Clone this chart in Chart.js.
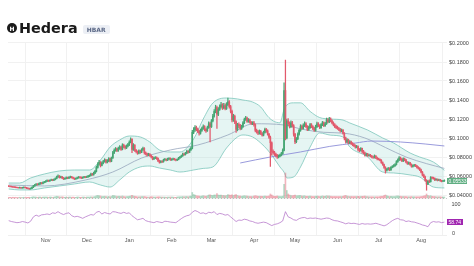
<!DOCTYPE html>
<html>
<head>
<meta charset="utf-8">
<title>Hedera HBAR</title>
<script src="https://cdn.jsdelivr.net/npm/chart.js@4.4.1/dist/chart.umd.min.js"></script>
<style>
  html, body { margin: 0; padding: 0; background: #fff; }
  body { width: 474px; height: 266px; position: relative; overflow: hidden; }
  #title { position: absolute; left: 7px; top: 20px; height: 16px; display: flex; align-items: center; font-family: "DejaVu Sans", sans-serif; z-index: 2; }
  #logo { width: 10px; height: 10px; border-radius: 50%; background: #1b1b1b; color: #fff; font: bold 6px "DejaVu Sans", sans-serif; display: flex; align-items: center; justify-content: center; }
  #name { margin-left: 2px; font-weight: bold; font-size: 14.4px; color: #1a1a1a; }
  #ticker { margin-left: 5px; margin-top: 2px; background: #eceff5; color: #5b6886; font: bold 6px "DejaVu Sans", sans-serif; padding: 1px 4px; border-radius: 2px; }
  #chart { position: absolute; left: 0; top: 0; }
</style>
</head>
<body>
<div id="title"><div id="logo">H</div><span id="name">Hedera</span><span id="ticker">HBAR</span></div>
<canvas id="chart" width="474" height="266"></canvas>
<script>
// daily candles from Oct 5 (day 0); prices in 1/10000 USD
const PRICE_UNIT = 0.0001;
const firstOpen = 494;

const closes = [
  492,490,487,485,483,480,478,476,478,475,477,480,478,472,468,465,470,482,495,505,514,510,518,526,522,532,538,
  545,552,548,555,560,556,563,572,590,598,585,592,580,570,575,582,578,586,590,583,576,569,575,581,588,584,579,585,590,587,
  592,598,605,620,612,630,648,690,725,745,712,735,752,768,745,760,780,755,790,845,870,885,868,890,905,880,925,910,895,915,930,
  955,985,880,925,870,855,840,865,850,875,890,845,835,820,830,815,800,780,790,795,785,760,745,755,750,770,775,768,780,785,770,
  775,780,772,768,775,790,800,812,830,825,840,860,850,875,890,1060,1085,1110,1095,1070,1050,1080,1100,1120,1090,1075,1110,1150,1120,
  1180,1230,1280,1320,1250,1300,1330,1350,1320,1340,1310,1350,1380,1330,1280,1190,1230,1170,1090,1140,1130,1100,1120,1160,1195,1210,1175,1190,1165,1150,1160,
  1140,1080,1065,1050,1070,1045,1030,1060,1090,1075,1040,1010,950,860,845,830,815,800,810,820,835,870,1500,1000,1180,1150,1120,1160,1130,1040,
  960,990,1040,1080,1120,1100,1130,1150,1120,1090,1110,1140,1120,1100,1080,1120,1150,1130,1110,1140,1160,1130,1150,1190,1170,1200,1180,1160,1140,1120,1110,
  1100,1090,1075,1080,1050,1000,960,980,950,960,940,930,920,905,910,880,870,890,860,845,820,830,815,820,810,800,795,810,790,780,
  775,765,740,720,690,660,670,680,665,690,700,710,720,750,770,790,775,760,780,770,745,730,740,720,700,710,715,705,690,680,665,
  640,610,590,555,515,545,540,585,580,575,560,565,555,560,550,545,548,553.3
];
const highs = [
  499,496,494,491,489,487,484,482,483,481,482,486,485,481,476,472,475,487,502,512,521,520,525,533,532,538,545,
  552,560,558,561,568,566,570,580,600,612,605,600,597,585,582,590,589,593,598,596,589,581,582,588,595,594,590,592,597,596,
  600,606,613,630,628,640,660,705,740,765,752,748,765,782,775,772,795,788,800,860,885,900,895,905,920,912,940,935,920,928,945,
  970,1002,995,940,932,880,865,875,872,888,905,898,855,842,840,836,822,808,798,805,802,790,768,762,762,778,785,782,788,795,792,
  783,788,786,779,782,797,808,820,840,842,850,872,868,886,905,1080,1110,1130,1125,1105,1082,1095,1115,1138,1130,1100,1125,1170,1165,
  1195,1250,1300,1345,1335,1320,1350,1375,1362,1365,1360,1372,1420,1395,1345,1295,1250,1240,1180,1155,1160,1145,1135,1172,1210,1228,1220,1205,1198,1175,1172,
  1175,1150,1095,1080,1085,1080,1058,1072,1105,1102,1085,1050,1020,960,875,860,842,828,822,832,848,885,1580,1820,1200,1205,1170,1180,1175,1140,
  1050,1005,1055,1095,1140,1135,1148,1170,1162,1130,1125,1155,1152,1130,1112,1135,1168,1162,1140,1152,1175,1170,1165,1210,1205,1218,1212,1192,1170,1152,1135,
  1125,1112,1102,1095,1090,1058,1010,995,988,972,968,952,940,928,922,918,890,900,895,870,852,842,838,830,828,818,810,822,815,798,
  788,782,772,748,726,698,682,690,688,698,710,720,730,762,782,805,800,785,792,788,775,752,748,745,728,718,724,722,712,698,688,
  672,648,620,598,562,555,560,595,592,588,582,572,570,568,565,556,555,560
];
const lows = [
  487,485,483,481,478,476,474,471,472,470,471,473,474,467,463,460,461,467,478,490,500,503,505,512,515,517,527,
  532,540,542,543,550,550,551,558,568,585,578,579,572,562,563,570,571,573,580,577,570,562,563,570,576,578,572,574,580,581,
  582,586,592,600,605,608,625,642,682,715,695,705,728,745,735,738,752,745,750,785,835,860,855,860,880,870,875,895,882,888,905,
  920,948,845,870,860,842,828,832,838,845,868,830,822,810,812,805,790,770,772,782,775,750,735,738,741,745,765,760,762,772,763,
  764,768,766,760,762,770,784,795,806,816,820,834,840,845,868,885,1045,1070,1075,1055,1030,1040,1068,1090,1075,1060,1068,1100,960,
  1110,1170,1220,1265,1100,1235,1290,1315,1300,1305,1295,1300,1340,1315,1265,1170,1175,1150,1060,1075,1110,1085,1090,1112,1150,1185,1165,1165,1155,1140,1140,
  1125,1065,1050,1035,1040,1035,1018,1022,1050,1060,1030,995,700,820,830,815,800,785,790,802,812,828,865,980,990,1130,1105,1110,1115,1020,
  940,950,982,1030,1070,1090,1092,1120,1110,1078,1080,1102,1108,1088,1068,1072,1110,1120,1098,1102,1130,1120,1122,1142,1160,1162,1168,1148,1128,1110,1098,
  1090,1078,1062,1065,1040,980,945,950,938,940,930,918,908,892,895,865,855,862,840,832,808,812,805,808,800,790,786,788,782,770,
  768,758,732,712,680,630,650,662,655,660,684,692,702,715,742,762,765,750,752,760,738,722,722,712,692,694,702,698,682,672,655,
  632,600,582,545,450,508,530,535,570,566,552,555,548,550,543,538,540,543
];
// daily volume, millions USD
const volumes = [
  3,3,2,3,2,3,2,2,3,2,2,3,2,3,3,3,2,4,5,4,4,3,4,4,3,4,4,
  4,4,3,4,4,3,4,5,7,6,5,4,5,4,3,4,3,4,4,3,4,3,3,4,4,3,3,4,4,3,
  4,4,4,5,4,5,6,9,10,9,8,6,6,7,6,5,6,5,7,10,9,8,6,7,7,6,8,6,5,6,6,
  7,8,11,8,7,6,5,5,5,6,6,6,5,4,4,4,5,5,4,4,4,5,5,4,4,4,4,3,4,4,4,
  4,4,3,3,4,5,5,5,6,5,6,6,5,7,8,22,14,12,9,8,8,7,8,9,8,7,9,12,13,
  11,10,12,12,18,12,11,12,10,10,9,10,14,12,11,13,10,12,14,10,8,8,7,8,9,8,8,7,6,6,6,
  8,9,8,7,7,7,7,7,8,7,7,8,16,12,8,7,7,8,7,6,6,7,55,100,30,16,12,10,9,10,
  12,9,9,10,10,8,8,9,7,7,7,8,7,6,6,7,8,7,6,7,8,7,7,9,8,8,7,6,6,6,6,
  6,6,6,6,7,9,10,8,7,6,6,6,6,6,6,7,6,6,7,7,8,6,6,5,5,5,5,5,5,5,
  5,6,7,7,10,12,9,7,6,7,6,6,6,8,8,8,7,6,6,6,6,5,5,5,6,5,5,5,5,5,5,
  6,7,8,9,16,10,8,9,7,6,6,5,5,5,5,4,4,4
];
// RSI, one value every 2 days
const RSI_STEP = 2;
const rsi = [
  45,42,40,38,39,42,40,37,43,58, 64,60,65,66,68,66,72,70,76,70,
  66,70,72,62,58,60,57,53,58,62, 66,64,74,77,68,73,70,68,76,75,
  72,70,74,70,72,62,55,48,50,53, 45,42,40,38,42,40,38,43,42,40,
  39,38,45,52,58,62,64,74,80,76, 70,72,68,74,72,76,66,70,68,64,
  66,58,50,42,47,46,50,48,44,42, 38,36,38,40,38,33,28,32,34,38,
  44,76,58,54,48,46,52,55,56,52, 54,53,54,52,50,52,54,53,48,45,
  44,41,38,34,37,35,36,34,32,35, 33,34,33,34,36,33,30,27,31,38,
  45,50,53,48,47,42,44,41,40,37, 34,30,28,24,38,42,40,41,38,40
];
const rsiLastLabel = '58.74';

// Bollinger bands
const bandDays  = [0,8,16,26,37,48,59,67,74,81,88,96,103,110,118,125,135,142,149,159,167,171,178,184,189,193,198,201,203,208,213,220,227,235,244,249,262,273,281,293,300,310,318];
const bandUpper = [526,526,579,621,653,663,663,768,905,979,1021,1011,958,874,853,853,990,1200,1368,1421,1411,1400,1379,1326,1230,1180,1160,1300,1347,1370,1370,1280,1215,1200,1189,1158,1084,1000,947,842,800,747,660];
const bandLower = [463,453,453,474,495,516,537,505,484,558,642,695,705,684,663,642,663,680,695,895,1011,1032,1011,947,874,800,695,640,579,590,695,905,1053,1030,1011,905,800,642,632,611,589,484,474];

const sma50Days = [0,26,56,76,97,118,138,160,179,201,215,230,245,260,275,290,305,318];
const sma50     = [505,495,558,642,789,874,926,1032,1150,1137,1090,1060,1050,1000,900,800,730,680];
const sma200Days = [169,191,213,234,253,265,286,304,318];
const sma200     = [737,800,853,911,947,968,958,937,916];

const monthDays   = [27,57,88,119,148,179,209,240,270,301];
const monthLabels = ['Nov','Dec','Jan','Feb','Mar','Apr','May','Jun','Jul','Aug'];
const priceTicks  = [0.04,0.06,0.08,0.10,0.12,0.14,0.16,0.18,0.20];

// layout
const AREA = { top: 42, bottom: 235, left: 8, right: 447 };
const DAY0_X = 8.7, PX_PER_DAY = 1.37;
const UP = '#45a673', DOWN = '#e2596c';

function axisRange(v0, y0, v1, y1) {
  const perPx = (v1 - v0) / (y0 - y1);
  return { min: v0 - (AREA.bottom - y0) * perPx, max: v0 + (y0 - AREA.top) * perPx };
}
const priceRange = axisRange(0.04, 195, 0.2, 43);
const rsiRange = axisRange(0, 233.7, 100, 204.7);
const volRange = axisRange(0, 198, 100, 173);

const toUsd = v => v * PRICE_UNIT;
const opens = closes.map((c, i) => i === 0 ? firstOpen : closes[i - 1]);
const isUp = closes.map((c, i) => c >= opens[i]);
const candleColors = isUp.map(u => u ? UP : DOWN);
const volColors = isUp.map(u => u ? 'rgba(69,166,115,0.4)' : 'rgba(226,89,108,0.45)');

const pts = (days, vals) => days.map((d, i) => ({ x: d, y: toUsd(vals[i]) }));

const panelPlugin = {
  id: 'panels',
  beforeDatasetsDraw(chart) {
    const { ctx, chartArea } = chart;
    const y = Math.round(chart.scales.yVol.getPixelForValue(0)) + 0.5;
    ctx.save();
    ctx.strokeStyle = '#c8c8c8';
    ctx.lineWidth = 1;
    ctx.setLineDash([1, 2]);
    ctx.beginPath();
    ctx.moveTo(chartArea.left, y);
    ctx.lineTo(chartArea.right, y);
    ctx.stroke();
    ctx.setLineDash([]);
    ctx.strokeStyle = '#efefef';
    ctx.beginPath();
    ctx.moveTo(chartArea.left, chartArea.bottom + 0.5);
    ctx.lineTo(chartArea.right, chartArea.bottom + 0.5);
    ctx.stroke();
    ctx.restore();
  },
  afterDraw(chart) {
    const { ctx, chartArea } = chart;
    const rs = chart.scales.yRsi, ps = chart.scales.y;
    ctx.save();
    ctx.font = '5.5px "Liberation Sans", Arial, sans-serif';
    ctx.textBaseline = 'middle';
    ctx.fillStyle = '#444';
    [100, 0].forEach(v => {
      ctx.fillText(String(v), chartArea.right + (v ? 4.5 : 5), rs.getPixelForValue(v));
    });
    const box = (y, text, color, w) => {
      ctx.fillStyle = color;
      ctx.fillRect(chartArea.right, Math.round(y) - 3, w, 6);
      ctx.fillStyle = '#fff';
      ctx.font = '5px "Liberation Sans", Arial, sans-serif';
      ctx.fillText(text, chartArea.right + 1.5, Math.round(y) + 0.3);
    };
    const lastClose = toUsd(closes[closes.length - 1]);
    box(ps.getPixelForValue(lastClose) + 1, lastClose.toFixed(5), '#5fae82', 20);
    box(rs.getPixelForValue(rsi[rsi.length - 1]), rsiLastLabel, '#a026b0', 16);
    ctx.restore();
  }
};

Chart.defaults.font.family = "'Liberation Sans', Arial, sans-serif";

new Chart(document.getElementById('chart'), {
  type: 'bar',
  data: {
    datasets: [
      { type: 'line', label: 'BB upper', data: pts(bandDays, bandUpper), borderColor: '#7cc6bb', borderWidth: 0.8,
        pointRadius: 0, cubicInterpolationMode: 'monotone', fill: '+1', backgroundColor: 'rgba(170,222,215,0.3)', order: 20 },
      { type: 'line', label: 'BB lower', data: pts(bandDays, bandLower), borderColor: '#7cc6bb', borderWidth: 0.8,
        pointRadius: 0, cubicInterpolationMode: 'monotone', fill: false, order: 19 },
      { type: 'line', label: 'SMA 50', data: pts(sma50Days, sma50), borderColor: '#97a6bd', borderWidth: 0.8,
        pointRadius: 0, cubicInterpolationMode: 'monotone', fill: false, order: 5 },
      { type: 'line', label: 'SMA 200', data: pts(sma200Days, sma200), borderColor: '#8d8fd8', borderWidth: 0.9,
        pointRadius: 0, cubicInterpolationMode: 'monotone', fill: false, order: 4 },
      { type: 'bar', label: 'Volume', yAxisID: 'yVol', grouped: false, barThickness: 1,
        data: volumes.map((v, i) => ({ x: i, y: v })), backgroundColor: volColors, order: 6 },
      { type: 'bar', label: 'Wick', grouped: false, barThickness: 0.6,
        data: closes.map((c, i) => ({ x: i, y: [toUsd(lows[i]), toUsd(highs[i])] })), backgroundColor: candleColors, order: 2 },
      { type: 'bar', label: 'Body', grouped: false, barThickness: 1,
        data: closes.map((c, i) => ({ x: i, y: [toUsd(opens[i]), toUsd(c)] })), backgroundColor: candleColors, order: 1 },
      { type: 'line', label: 'RSI', yAxisID: 'yRsi', data: rsi.map((v, i) => ({ x: i * RSI_STEP, y: v })),
        borderColor: '#b77bcb', borderWidth: 0.8, pointRadius: 0, fill: false, order: 7 }
    ]
  },
  options: {
    responsive: false,
    animation: false,
    devicePixelRatio: 1,
    layout: { padding: { left: AREA.left, top: AREA.top, right: 0, bottom: 266 - AREA.bottom - 10 } },
    plugins: { legend: { display: false }, tooltip: { enabled: false } },
    scales: {
      x: {
        type: 'linear', offset: false,
        min: (AREA.left - DAY0_X) / PX_PER_DAY, max: (AREA.right - DAY0_X) / PX_PER_DAY,
        grid: { color: '#f1f1f1', drawTicks: false }, border: { display: false },
        afterBuildTicks: s => { s.ticks = monthDays.map(v => ({ value: v })); },
        afterFit: s => { s.height = 10; },
        ticks: { autoSkip: false, maxRotation: 0, padding: 2, color: '#555', font: { size: 5.5 },
                 callback: (v, i) => monthLabels[i] }
      },
      y: {
        position: 'right', min: priceRange.min, max: priceRange.max,
        afterBuildTicks: s => { s.ticks = priceTicks.map(v => ({ value: v })); },
        afterFit: s => { s.width = 474 - AREA.right; },
        grid: { color: '#f1f1f1', drawTicks: false }, border: { display: false },
        ticks: { padding: 2, color: '#444', font: { size: 5.5 },
                 callback: v => '$' + (v >= 0.1 ? v.toFixed(4) : v.toFixed(5)) }
      },
      yVol: { display: false, min: volRange.min, max: volRange.max },
      yRsi: { display: false, min: rsiRange.min, max: rsiRange.max }
    }
  },
  plugins: [panelPlugin]
});
</script>
</body>
</html>
